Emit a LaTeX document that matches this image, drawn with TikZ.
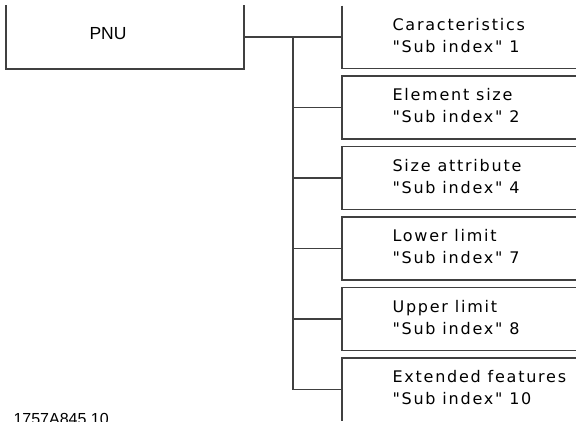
\documentclass[tikz,border=0pt]{standalone}
\usepackage{fontspec}
\usepackage{tikz}
\usetikzlibrary{positioning}
\newfontfamily\cadfont{DejaVu Sans}[LetterSpace=11]
\newfontfamily\pnufont{Liberation Sans}

\begin{document}
\begin{tikzpicture}[x=1pt, y=-1pt, node distance=7.5pt, color=black!75, text=black, line width=1.1pt,
  box/.style={inner sep=0, outer sep=0, minimum width=258pt, minimum height=63pt, anchor=north west},
  txt/.style={anchor=base west, align=left, inner sep=0, font=\cadfont\fontsize{16}{22}\selectfont}]
\clip (0,0) rectangle (576,421);
\node[box, minimum width=238pt, minimum height=64pt] (pnu) at (6,5) {};
\node[anchor=base, inner sep=0, font=\pnufont\fontsize{17.5}{20}\selectfont] (pnulbl) at ([shift={(102,34.3)}]pnu.north west) {PNU};
\draw (pnu.north west) -- (pnu.south west) -- (pnu.south east) -- (pnu.north east);
% sub index boxes
\node[box] (b1) at (342,5.5) {};
\node[box, below=of b1] (b2) {};
\node[box, below=of b2] (b3) {};
\node[box, below=of b3] (b4) {};
\node[box, below=of b4] (b5) {};
\node[box, below=of b5] (b6) {};
\node[txt] (t1) at ([shift={(50,46.5)}]b1.north west) {Caracteristics\\"Sub index" 1};
\node[txt] (t2) at ([shift={(50,46.5)}]b2.north west) {Element size\\"Sub index" 2};
\node[txt] (t3) at ([shift={(50,46.5)}]b3.north west) {Size attribute\\"Sub index" 4};
\node[txt] (t4) at ([shift={(50,46.5)}]b4.north west) {Lower limit\\"Sub index" 7};
\node[txt] (t5) at ([shift={(50,46.5)}]b5.north west) {Upper limit\\"Sub index" 8};
\node[txt] (t6) at ([shift={(50,46.5)}]b6.north west) {Extended features\\"Sub index" 10};
\draw (b1.north west) -- (b1.south west) -- (b1.south east);
\foreach \i in {2,...,5}
  \draw (b\i.north east) -- (b\i.north west) -- (b\i.south west) -- (b\i.south east);
\draw (b6.north east) -- (b6.north west) -- (b6.south west);
% tree
\coordinate (tk) at ([xshift=49pt]pnu.east);
\draw (pnu.east) -- (b1.west);
\draw (tk) |- (b6.west);
\foreach \i in {2,...,5}
  \draw (tk |- b\i.west) -- (b\i.west);
\node[anchor=base west, inner sep=0, font=\pnufont\fontsize{16}{16}\selectfont] (code) at (13,424.5) {1757A845.10};
\end{tikzpicture}
\end{document}
